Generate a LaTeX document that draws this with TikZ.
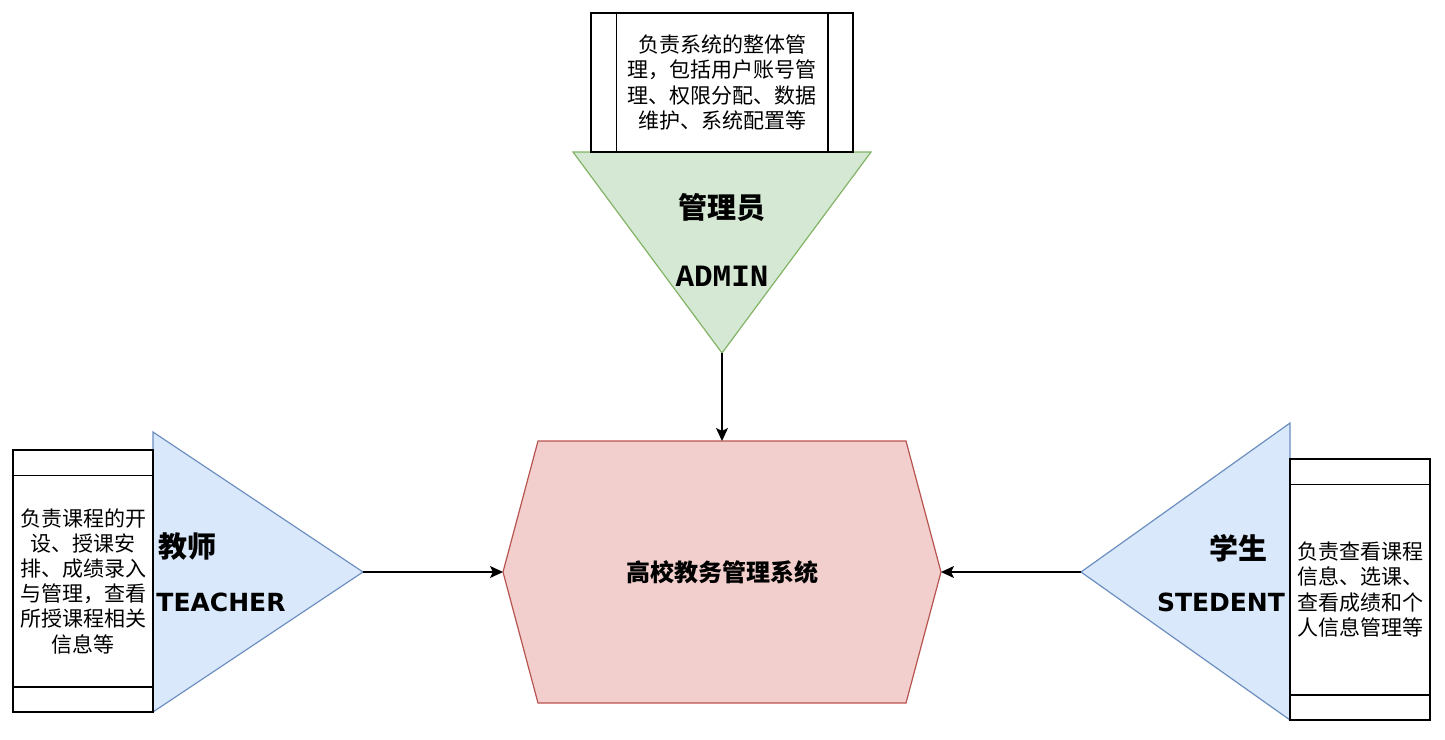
\documentclass[tikz,border=0pt]{standalone}
\usepackage{fontspec}
\setmainfont{Noto Sans CJK SC}
\newfontfamily\rolefont{DejaVu Sans}
\newfontfamily\codefont{Liberation Mono}
\usetikzlibrary{arrows.meta}

\definecolor{admfill}{HTML}{D5E8D4}
\definecolor{admline}{HTML}{82B366}
\definecolor{usrfill}{HTML}{DAE8FC}
\definecolor{usrline}{HTML}{6C8EBF}
\definecolor{sysfill}{HTML}{F2CFCD}
\definecolor{sysline}{HTML}{B85450}

\begin{document}
\begin{tikzpicture}[x=1pt, y=-1pt,
  descbox/.style={draw, line width=1.5pt, fill=white, align=center, inner sep=0pt,
                  minimum width=140pt, minimum height=262pt,
                  font=\fontsize{21}{25.2}\selectfont},
  sepline/.style={line width=1.5pt},
  roletri/.style={line width=1.2pt},
  rolename/.style={inner sep=0pt, font=\fontsize{29}{34}\selectfont\bfseries},
  roleen/.style={inner sep=0pt, font=\fontsize{25}{30}\selectfont\rolefont\bfseries},
  sysbox/.style={fill=sysfill, draw=sysline, line width=1.2pt},
  link/.style={-{Stealth[length=13pt, width=12pt, inset=3pt]}, line width=1.3pt}
]

\useasboundingbox (0,0) rectangle (1445,739);

\draw[roletri, fill=admfill, draw=admline] (573,152) -- (871,152) -- (722,353) -- cycle;
\coordinate (admTip) at (722,353);
\node[descbox, minimum width=262pt, minimum height=139pt] (admDesc) at (722,82.5)
  {负责系统的整体管\\理，包括用户账号管\\理、权限分配、数据\\维护、系统配置等};
\draw[sepline] ([xshift=26pt]admDesc.north west) -- ([xshift=26pt]admDesc.south west);
\draw[sepline] ([xshift=-26pt]admDesc.north east) -- ([xshift=-26pt]admDesc.south east);
\node[rolename] (admName) at (722,208) {管理员};
\node[inner sep=0pt, font=\fontsize{31}{36}\selectfont\codefont\bfseries] (admEn) at (722,276) {ADMIN};

\draw[roletri, fill=usrfill, draw=usrline] (153,432) -- (363,572) -- (153,712) -- cycle;
\coordinate (tchTip) at (363,572);
\node[descbox] (tchDesc) at (83,581)
  {负责课程的开\\设、授课安\\排、成绩录入\\与管理，查看\\所授课程相关\\信息等};
\node[rolename] (tchName) at (187,547) {教师};
\node[roleen] (tchEn) at (221,602) {TEACHER};

\draw[roletri, fill=usrfill, draw=usrline] (1290,423) -- (1081,572) -- (1290,720) -- cycle;
\coordinate (stuTip) at (1081,572);
\node[descbox, minimum height=261pt] (stuDesc) at (1360,589.5)
  {负责查看课程\\信息、选课、\\查看成绩和个\\人信息管理等};
\node[rolename] (stuName) at (1238,548) {学生};
\node[roleen] (stuEn) at (1221,602) {STEDENT};

\foreach \b in {tchDesc, stuDesc} {
  \draw[sepline] ([yshift=-26pt]\b.north west) -- ([yshift=-26pt]\b.north east);
  \draw[sepline] ([yshift=26pt]\b.south west) -- ([yshift=26pt]\b.south east);
}

\draw[sysbox] (538,441) -- (906,441) -- (941,572) -- (906,703) -- (538,703) -- (503,572) -- cycle;
\coordinate (sysN) at (722,441);
\coordinate (sysW) at (503,572);
\coordinate (sysE) at (941,572);
\node[inner sep=0pt, font=\fontsize{24}{28}\selectfont\bfseries] (sys) at (722,572) {高校教务管理系统};

\draw[link] (admTip) -- (sysN);
\draw[link] (tchTip) -- (sysW);
\draw[link] (stuTip) -- (sysE);

\end{tikzpicture}
\end{document}
